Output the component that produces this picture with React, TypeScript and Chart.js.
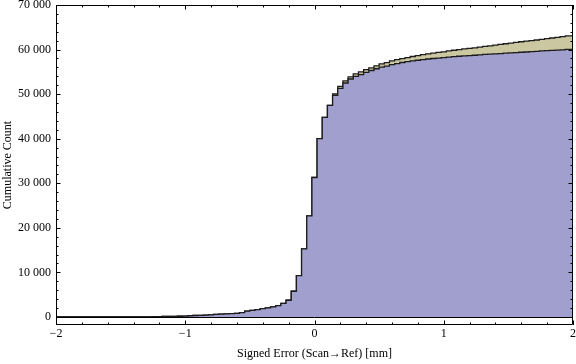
import { useEffect, useRef } from "react";
import { Chart, registerables } from "chart.js";

Chart.register(...registerables);

// Bin centres of the cumulative histogram (mm)
const binCenters = [
  -2.0, -1.96, -1.92, -1.88, -1.84, -1.8, -1.76, -1.72, -1.68, -1.64,
  -1.6, -1.56, -1.52, -1.48, -1.44, -1.4, -1.36, -1.32, -1.28, -1.24,
  -1.2, -1.16, -1.12, -1.08, -1.04, -1.0, -0.96, -0.92, -0.88, -0.84,
  -0.8, -0.76, -0.72, -0.68, -0.64, -0.6, -0.56, -0.52, -0.48, -0.44,
  -0.4, -0.36, -0.32, -0.28, -0.24, -0.2, -0.16, -0.12, -0.08, -0.04,
  0.0, 0.04, 0.08, 0.12, 0.16, 0.2, 0.24, 0.28, 0.32, 0.36,
  0.4, 0.44, 0.48, 0.52, 0.56, 0.6, 0.64, 0.68, 0.72, 0.76,
  0.8, 0.84, 0.88, 0.92, 0.96, 1.0, 1.04, 1.08, 1.12, 1.16,
  1.2, 1.24, 1.28, 1.32, 1.36, 1.4, 1.44, 1.48, 1.52, 1.56,
  1.6, 1.64, 1.68, 1.72, 1.76, 1.8, 1.84, 1.88, 1.92, 1.96,
  2.0,
];
const BIN_WIDTH = 0.04;

// Lower (blue) cumulative series
const blueCounts = [
  0, 0, 0, 0, 0, 0, 0, 0, 0, 0,
  0, 0, 0, 0, 0, 0, 0, 10, 10, 20,
  90, 100, 130, 140, 150, 160, 180, 280, 330, 370,
  400, 450, 580, 620, 680, 750, 800, 980, 1300, 1500,
  1650, 1870, 2020, 2250, 2550, 3070, 3750, 5770, 9290, 15300,
  22700, 31300, 40000, 44800, 47500, 49750, 51300, 52500, 53400, 54000,
  54400, 54900, 55300, 55700, 56050, 56300, 56600, 56850, 57100, 57300,
  57450, 57600, 57750, 57880, 58000, 58100, 58200, 58320, 58400, 58500,
  58580, 58650, 58730, 58800, 58900, 58970, 59050, 59100, 59200, 59260,
  59330, 59400, 59450, 59530, 59600, 59700, 59760, 59820, 59880, 59950,
  60050,
];

// Upper (tan) cumulative series
const tanCounts = [
  0, 0, 0, 0, 0, 0, 0, 0, 0, 0,
  0, 0, 0, 0, 0, 0, 0, 10, 10, 20,
  90, 100, 130, 140, 150, 160, 180, 280, 330, 370,
  400, 450, 580, 620, 680, 750, 800, 980, 1300, 1500,
  1650, 1870, 2020, 2250, 2550, 3070, 3750, 5770, 9290, 15300,
  22700, 31300, 40000, 44800, 47500, 50050, 51750, 52960, 53860, 54530,
  55000, 55500, 55900, 56350, 56800, 57080, 57480, 57750, 57950, 58200,
  58450, 58650, 58850, 59050, 59200, 59350, 59500, 59700, 59850, 60000,
  60150, 60250, 60400, 60550, 60700, 60850, 61000, 61150, 61300, 61450,
  61600, 61750, 61900, 62000, 62150, 62300, 62450, 62600, 62750, 62900,
  63050,
];

const xTickValues = [-2, -1, 0, 1, 2];
const yTickValues = [0, 10000, 20000, 30000, 40000, 50000, 60000, 70000];
const xTitle = "Signed Error (Scan\u2192Ref) [mm]";
const yTitle = "Cumulative Count";

const FONT = "'Liberation Serif', 'Times New Roman', serif";

function stepPoints(values: number[]) {
  const pts = values.map((v, i) => ({ x: binCenters[i] - BIN_WIDTH / 2, y: v }));
  const last = values.length - 1;
  pts.push({ x: binCenters[last] + BIN_WIDTH / 2, y: values[last] });
  return pts;
}

function fmtY(v: number) {
  if (v === 0) return "0";
  const th = Math.floor(v / 1000);
  const rest = String(v % 1000).padStart(3, "0");
  return `${th} ${rest}`;
}
function fmtX(v: number) {
  return v < 0 ? "\u2212" + Math.abs(v) : String(v);
}

const frameTicks = {
  id: "frameTicks",
  afterDraw(chart: any) {
    const { ctx, chartArea, scales } = chart;
    const { left, right, top, bottom } = chartArea;
    const xs = scales.x;
    const ys = scales.y;
    ctx.save();
    ctx.strokeStyle = "#000";
    ctx.lineWidth = 1;
    // zero axis line
    const y0 = Math.round(ys.getPixelForValue(0)) + 0.5;
    ctx.beginPath();
    ctx.moveTo(left, y0);
    ctx.lineTo(right, y0);
    ctx.stroke();
    // frame
    ctx.beginPath();
    ctx.rect(left + 0.5, top + 0.5, right - left - 1, bottom - top - 1);
    ctx.stroke();
    // x ticks (0.2 steps)
    ctx.beginPath();
    for (let i = -10; i <= 10; i++) {
      const v = i / 5;
      const px = Math.round(xs.getPixelForValue(v)) + 0.5;
      const len = i % 5 === 0 ? 4.5 : 2.5;
      ctx.moveTo(px, bottom);
      ctx.lineTo(px, bottom - len);
      ctx.moveTo(px, top);
      ctx.lineTo(px, top + len);
    }
    // y ticks (2000 steps)
    for (let i = 0; i <= 35; i++) {
      const v = i * 2000;
      const py = Math.round(ys.getPixelForValue(v)) + 0.5;
      const len = i % 5 === 0 ? 4.5 : 2.5;
      ctx.moveTo(left, py);
      ctx.lineTo(left + len, py);
      ctx.moveTo(right, py);
      ctx.lineTo(right - len, py);
    }
    ctx.stroke();
    ctx.restore();
  },
};

export default function App() {
  const ref = useRef<HTMLCanvasElement | null>(null);

  useEffect(() => {
    document.body.style.margin = "0";
    const canvas = ref.current;
    if (!canvas) return;
    const chart = new Chart(canvas, {
      type: "line",
      data: {
        datasets: [
          {
            label: "blue",
            data: stepPoints(blueCounts),
            stepped: "after",
            fill: "origin",
            backgroundColor: "#a19fcd",
            borderColor: "#1c1c1c",
            borderWidth: 1.3,
            pointRadius: 0,
          },
          {
            label: "tan",
            data: stepPoints(tanCounts),
            stepped: "after",
            fill: "origin",
            backgroundColor: "#cbc7a1",
            borderColor: "#1c1c1c",
            borderWidth: 1.3,
            pointRadius: 0,
          },
        ],
      },
      options: {
        responsive: false,
        animation: false,
        events: [],
        layout: { padding: { top: 5, right: 3, left: 0, bottom: 0 } },
        plugins: {
          legend: { display: false },
          tooltip: { enabled: false },
        },
        scales: {
          x: {
            type: "linear",
            min: -2,
            max: 2,
            grid: { display: false, drawTicks: false, tickLength: 0 },
            border: { display: false },
            afterBuildTicks: (s: any) => {
              s.ticks = xTickValues.map((v) => ({ value: v }));
            },
            afterFit: (s: any) => {
              s.height = 39;
              s.paddingLeft = 0;
              s.paddingRight = 0;
            },
            ticks: {
              color: "#000",
              padding: 2,
              maxRotation: 0,
              autoSkip: false,
              font: { family: FONT, size: 12 },
              callback: (v: any) => fmtX(Number(v)),
            },
            title: {
              display: true,
              text: xTitle,
              color: "#000",
              font: { family: FONT, size: 12 },
              padding: { top: 0, bottom: 3 },
            },
          },
          y: {
            type: "linear",
            min: -1800,
            max: 70000,
            grid: { display: false, drawTicks: false, tickLength: 0 },
            border: { display: false },
            afterBuildTicks: (s: any) => {
              s.ticks = yTickValues.map((v) => ({ value: v }));
            },
            afterFit: (s: any) => {
              s.width = 56;
              s.paddingTop = 0;
              s.paddingBottom = 0;
            },
            ticks: {
              color: "#000",
              padding: 5,
              autoSkip: false,
              font: { family: FONT, size: 12 },
              callback: (v: any) => fmtY(Number(v)),
            },
            title: {
              display: true,
              text: yTitle,
              color: "#000",
              font: { family: FONT, size: 12 },
              padding: { top: 1, bottom: 0 },
            },
          },
        },
      },
      plugins: [frameTicks],
    } as any);
    return () => chart.destroy();
  }, []);

  return (
    <div style={{ width: 576, height: 364, background: "#fff" }}>
      <canvas ref={ref} width={576} height={364} style={{ display: "block" }} />
    </div>
  );
}
